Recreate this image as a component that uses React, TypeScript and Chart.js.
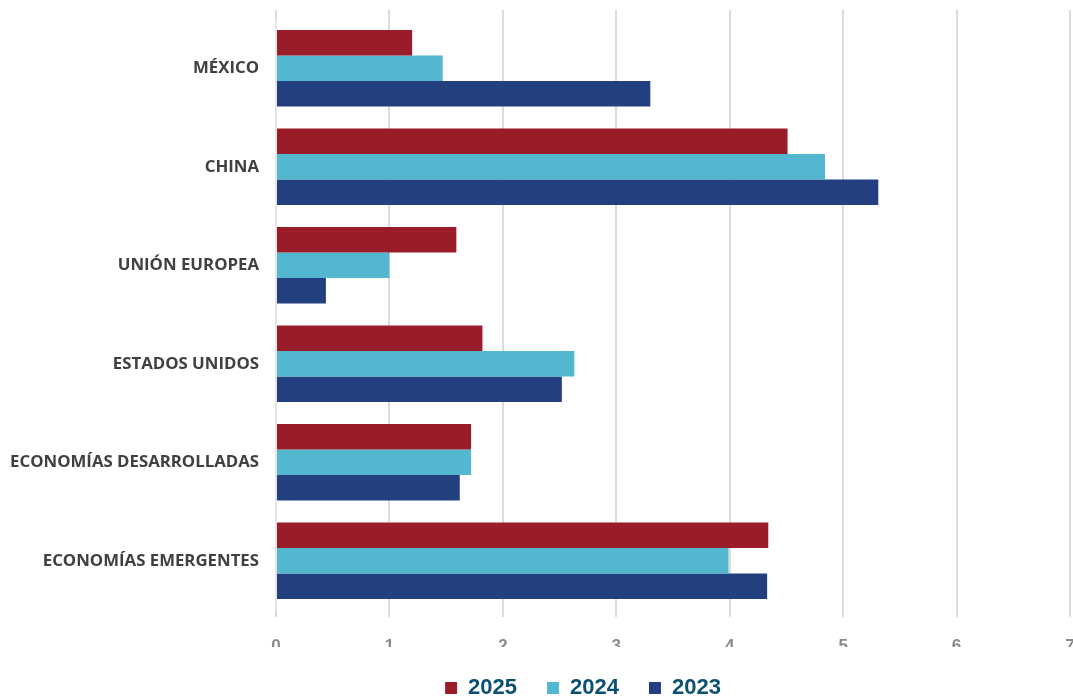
import React, { useEffect, useRef } from "react";
import { Chart, registerables } from "chart.js";

Chart.register(...registerables);

const categories = [
  "MÉXICO",
  "CHINA",
  "UNIÓN EUROPEA",
  "ESTADOS UNIDOS",
  "ECONOMÍAS DESARROLLADAS",
  "ECONOMÍAS EMERGENTES",
];
const seriesNames = ["2025", "2024", "2023"];
const values2025 = [1.2, 4.51, 1.59, 1.82, 1.72, 4.34];
const values2024 = [1.47, 4.84, 1.0, 2.63, 1.72, 3.99];
const values2023 = [3.3, 5.31, 0.44, 2.52, 1.62, 4.33];
const seriesColors = ["#9b1c29", "#53b7cf", "#22407f"];
const xTicks = [0, 1, 2, 3, 4, 5, 6, 7];

const GRID_COLOR = "#dcdcdc";
const LEGEND_SHIFT = 48;

const gridExtend = {
  id: "gridExtend",
  afterLayout(chart: any) {
    if (chart.legend) {
      chart.legend.left += LEGEND_SHIFT;
      chart.legend.right += LEGEND_SHIFT;
    }
  },
  beforeDatasetsDraw(chart: any) {
    const { ctx, chartArea, scales } = chart;
    const xs = scales.x;
    ctx.save();
    ctx.strokeStyle = GRID_COLOR;
    ctx.lineWidth = 2;
    xs.ticks.forEach((t: any) => {
      const px = Math.round(xs.getPixelForValue(t.value));
      ctx.beginPath();
      ctx.moveTo(px, chartArea.top - 9);
      ctx.lineTo(px, chartArea.top);
      ctx.moveTo(px, chartArea.bottom);
      ctx.lineTo(px, chartArea.bottom + 7);
      ctx.stroke();
    });
    ctx.restore();
  },
};

export default function App() {
  const ref = useRef<HTMLCanvasElement | null>(null);
  useEffect(() => {
    if (!ref.current) return;
    const chart = new Chart(ref.current, {
      type: "bar",
      data: {
        labels: categories,
        datasets: [values2025, values2024, values2023].map((d, i) => ({
          label: seriesNames[i],
          data: d,
          backgroundColor: seriesColors[i],
          borderWidth: 0,
          categoryPercentage: 0.775,
          barPercentage: 1,
        })),
      },
      plugins: [gridExtend],
      options: {
        indexAxis: "y",
        animation: false,
        responsive: false,
        maintainAspectRatio: false,
        layout: { padding: { top: 19, right: 20, bottom: -9, left: 0 } },
        scales: {
          x: {
            min: 0,
            max: 7,
            afterBuildTicks: (scale: any) => {
              scale.ticks = xTicks.map((v) => ({ value: v }));
            },
            afterFit: (scale: any) => {
              scale.height = 37;
              scale.paddingLeft = 0;
              scale.paddingRight = 0;
            },
            grid: { color: GRID_COLOR, lineWidth: 2, drawTicks: false },
            border: { display: false },
            ticks: {
              color: "#8a8a8a",
              padding: 26,
              font: { family: "'Liberation Sans', Arial, sans-serif", size: 17, weight: "bold" },
            },
          },
          y: {
            afterFit: (scale: any) => {
              scale.width = 276;
              scale.paddingTop = 0;
              scale.paddingBottom = 0;
            },
            grid: { display: false, drawTicks: false },
            border: { display: true, color: "#e6e6e6", width: 2 },
            ticks: {
              color: "#404040",
              padding: 17,
              font: { family: "'Open Sans', Lato, sans-serif", size: 16.8, weight: "bold" },
            },
          },
        },
        plugins: {
          tooltip: { enabled: false },
          legend: {
            position: "bottom",
            labels: {
              color: "#0b5170",
              boxWidth: 12,
              boxHeight: 12,
              padding: 30,
              font: { family: "'Liberation Sans', Arial, sans-serif", size: 22, weight: "bold" },
            },
          },
        },
      },
    });
    return () => chart.destroy();
  }, []);
  return (
    <div style={{ position: "fixed", left: 0, top: 0, width: 1073, height: 700, overflow: "hidden", background: "#fff" }}>
      <canvas ref={ref} width={1090} height={700} style={{ display: "block" }} />
    </div>
  );
}
